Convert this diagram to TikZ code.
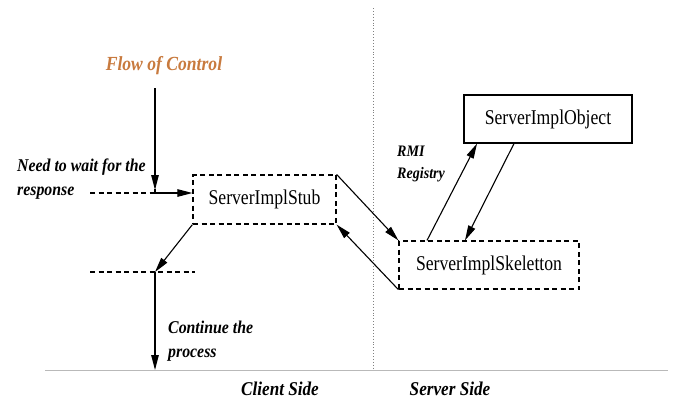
\documentclass[tikz,border=0pt]{standalone}
\usepackage{fontspec}
\setmainfont{Liberation Serif}
\newfontfamily\labfont[FakeStretch=0.88]{Liberation Serif}
\newfontfamily\boxfont[FakeStretch=0.84]{Liberation Serif}
\usetikzlibrary{arrows.meta}
\definecolor{flowc}{RGB}{200,122,62}
\tikzset{
  arr/.style={-{Triangle[length=15pt,width=7.5pt]}, line width=1.1pt},
  dbox/.style={draw, line width=1.2pt, dash pattern=on 5pt off 3.5pt, inner sep=0pt,
    font=\boxfont\fontsize{21}{24}\selectfont},
  sbox/.style={draw, line width=1.2pt, inner sep=0pt, font=\boxfont\fontsize{21}{24}\selectfont},
  lab/.style={inner sep=0pt, align=left, font=\labfont\bfseries\itshape\fontsize{18}{24}\selectfont},
  dline/.style={line width=1.2pt, dash pattern=on 5pt off 3.5pt}
}
\begin{document}
\begin{tikzpicture}[x=1pt,y=-1pt]
\useasboundingbox (0,0) rectangle (674,405);
% side separators
\draw[gray!55, line width=0.8pt] (45,370) -- (668,370);
\draw[gray, line width=0.9pt, dotted] (373,8) -- (373,370);
% boxes
\node[dbox, minimum width=143pt, minimum height=49pt] (stub) at (264.5,199.5) {ServerImplStub};
\node[dbox, minimum width=180pt, minimum height=48pt] (skel) at (489,265) {ServerImplSkeletton};
\node[sbox, minimum width=168pt, minimum height=48pt] (obj) at (548,119) {ServerImplObject};
% labels
\node[lab, text=flowc, font=\labfont\bfseries\itshape\fontsize{20}{24}\selectfont] (flow) at (164,66) {Flow of Control};
\node[lab, anchor=west] (wait) at (17,179) {Need to wait for the\\response};
\node[lab, anchor=west] (cont) at (168,341) {Continue the\\process};
\node[lab, anchor=west, font=\labfont\bfseries\itshape\fontsize{16}{22}\selectfont] (rmi) at (397,164) {RMI\\Registry};
\node[lab, font=\labfont\bfseries\itshape\fontsize{19.5}{24}\selectfont] (client) at (280,389) {Client Side};
\node[lab, font=\labfont\bfseries\itshape\fontsize{19.5}{24}\selectfont] (server) at (450,389) {Server Side};
% client flow
\coordinate (ftop) at (155,88);
\coordinate (junc) at (155,193);
\coordinate (wleft) at (90,193);
\coordinate (split) at (155,272);
\coordinate (sl) at (90,272);
\coordinate (sr) at (195,272);
\coordinate (bottom) at (155,370);
\draw[arr] (ftop) -- (155,190);
\draw[line width=1.1pt] (155,189) -- (junc);
\draw[dline] (wleft) -- (junc);
\draw[arr] (junc) -- (stub.west |- junc);
\draw[arr] (stub.south west) -- (split);
\draw[dline] (sl) -- (sr);
\draw[arr] (split) -- (bottom);
% stub <-> skeleton
\draw[arr] (stub.north east) -- (skel.north west);
\draw[arr] (skel.south west) -- (stub.south east);
% skeleton <-> object
\draw[arr] ([xshift=-62pt]skel.north) -- ([xshift=-71pt]obj.south);
\draw[arr] ([xshift=-34pt]obj.south) -- ([xshift=-24pt]skel.north);
\end{tikzpicture}
\end{document}
